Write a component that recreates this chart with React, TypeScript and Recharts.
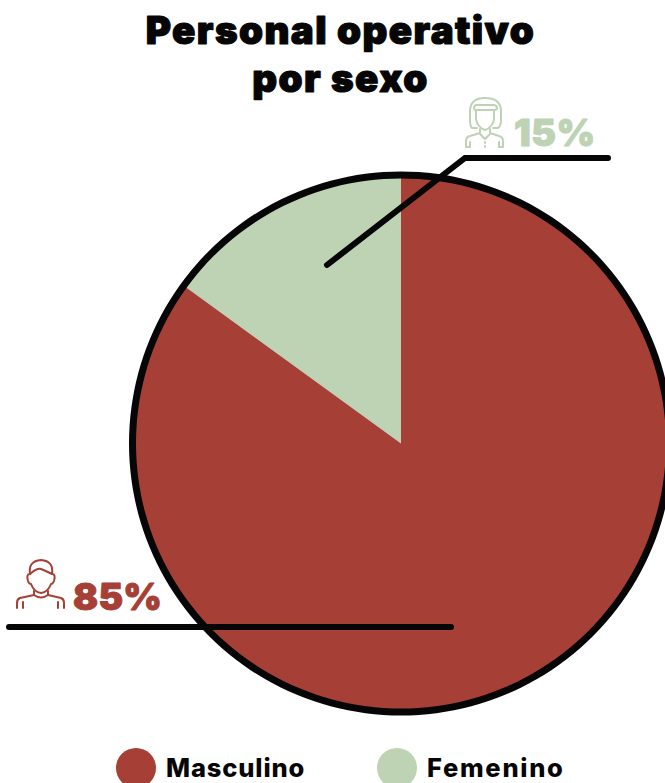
import React from "react";
import { PieChart, Pie, Cell, Legend } from "recharts";

const categories = ["Femenino", "Masculino"];
const values = [15, 85];
const colors = ["#BDD3B4", "#A63F35"];
const legendOrder = ["Masculino", "Femenino"];
const titleLines = ["Personal operativo", "por sexo"];
const chartData = categories.map((name, i) => ({ name, value: values[i] }));
const ringData = [{ name: "borde", value: 100 }];
const FONT = "Inter, 'Noto Sans', sans-serif";
const INK = "#060606";

const renderLegend = () => (
  <div style={{ position: "relative", width: 665, height: 45 }}>
    {legendOrder.map((name, i) => (
      <div key={name} style={{ position: "absolute", left: i === 0 ? 116 : 377, top: 0, display: "flex", alignItems: "flex-start" }}>
        <span style={{ display: "block", width: 40, height: 40, borderRadius: 20, background: colors[categories.indexOf(name)] }} />
        <span style={{ marginLeft: 10, marginTop: 3, fontFamily: FONT, fontWeight: 800, fontSize: 25.5, lineHeight: "34px", letterSpacing: i === 0 ? 0.85 : 1.7, color: INK }}>{name}</span>
      </div>
    ))}
  </div>
);

export default function App() {
  return (
    <div style={{ position: "absolute", left: 0, top: 0, width: 665, height: 783, overflow: "hidden", background: "#fff" }}>
      <PieChart width={665} height={783} margin={{ top: 0, right: 0, bottom: 0, left: 0 }}>
        <Pie data={chartData} dataKey="value" nameKey="name" cx={401} cy={443.5} innerRadius={0} outerRadius={268} startAngle={90} endAngle={450} stroke="none" isAnimationActive={false}>
          {chartData.map((d, i) => <Cell key={d.name} fill={colors[i]} />)}
        </Pie>
        <Pie data={ringData} dataKey="value" nameKey="name" cx={401} cy={443.5} innerRadius={265} outerRadius={272} startAngle={90} endAngle={450} fill={INK} stroke="none" legendType="none" isAnimationActive={false} />
        <Legend content={renderLegend} wrapperStyle={{ position: "absolute", left: 0, top: 748, width: 665, height: 45 }} />
      </PieChart>
      <svg width={665} height={783} style={{ position: "absolute", left: 0, top: 0, pointerEvents: "none" }}>
        <g fontFamily={FONT} fontWeight={900} fontSize={38.5} fill={INK} stroke={INK} strokeWidth={1.2} strokeLinejoin="round" textAnchor="middle" letterSpacing={1.4}>
          <text x={340.5} y={44}>{titleLines[0]}</text>
          <text x={340.5} y={92}>{titleLines[1]}</text>
        </g>
        <g stroke={INK} strokeWidth={6} strokeLinecap="round" strokeLinejoin="miter" fill="none">
          <path d="M327 265 L465 158 L608 158" />
          <path d="M9 627 L451 627" />
        </g>
        <g fontFamily={FONT} fontWeight={900} fontSize={37} strokeWidth={1} strokeLinejoin="round">
          <text x={514} y={146} fill={colors[0]} stroke={colors[0]} letterSpacing={0.6}>15%</text>
          <text x={73} y={610} fill={colors[1]} stroke={colors[1]} letterSpacing={0.3}>85%</text>
        </g>
        <g stroke={colors[0]} strokeWidth={2} fill="none" strokeLinecap="round" strokeLinejoin="round">
          <path d="M477 128 L472 128 Q470 126 470 120 L470 110 Q471 98 485 98 Q500 98 501 110 L501 120 Q501 126 498 128 L493 128" />
          <path d="M474 108 Q474 105 477 105 L493 105 Q497 105 497 108 Q497 110 494 110 L476 110 Q474 110 474 108 Z" />
          <path d="M476 110 L476 119 Q477 127 485 130 Q493 127 494 119 L494 110" />
          <path d="M480 129 L480 134 L485 139 L490 134 L490 129" />
          <path d="M466 147 L466 141 Q466 137 470 136 L480 133 M490 133 L499 136 Q503 137 503 141 L503 147 L499 147 M470 147 L466 147" />
          <path d="M470 142 L470 147 M499 142 L499 147 M485 142 L485 143 M485 146 L485 147" />
        </g>
        <g stroke={colors[1]} strokeWidth={2} fill="none" strokeLinecap="round" strokeLinejoin="round">
          <path d="M30 574 Q28 561 41 560 Q54 561 52 574" />
          <path d="M30 574 Q37 568 41 569 Q46 571 52 574" />
          <path d="M30 574 Q26 574 28 581 Q29 584 31 584 Q34 592 41 593 Q48 592 51 584 Q53 584 54 581 Q56 574 52 574" />
          <path d="M34 591 L34 595 L20 598 Q17 599 17 603 L17 608 M48 591 L48 595 L61 598 Q64 599 64 603 L64 608" />
          <path d="M34 595 Q41 600 48 595" />
          <path d="M23 602 L23 608 M58 602 L58 608" />
        </g>
      </svg>
    </div>
  );
}
